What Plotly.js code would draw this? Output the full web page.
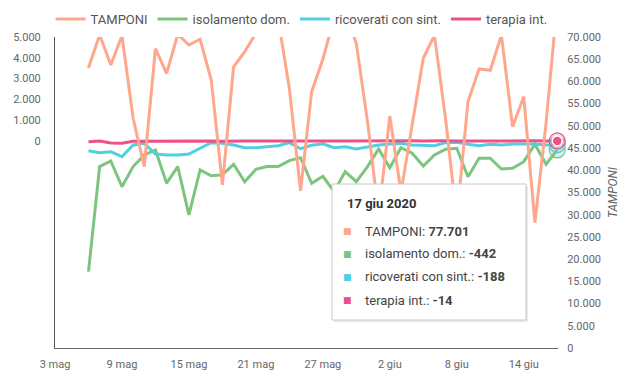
<!DOCTYPE html>
<html>
<head>
<meta charset="utf-8">
<script src="https://cdn.plot.ly/plotly-3.0.1.min.js"></script>
<style>
  html, body { margin: 0; padding: 0; background: #fff; }
  #chart { width: 632px; height: 380px; }
</style>
</head>
<body>
<div id="chart"></div>
<script>
// ---- data ----
const dates = [
  '2020-05-06','2020-05-07','2020-05-08','2020-05-09','2020-05-10','2020-05-11','2020-05-12',
  '2020-05-13','2020-05-14','2020-05-15','2020-05-16','2020-05-17','2020-05-18','2020-05-19',
  '2020-05-20','2020-05-21','2020-05-22','2020-05-23','2020-05-24','2020-05-25','2020-05-26',
  '2020-05-27','2020-05-28','2020-05-29','2020-05-30','2020-05-31','2020-06-01','2020-06-02',
  '2020-06-03','2020-06-04','2020-06-05','2020-06-06','2020-06-07','2020-06-08','2020-06-09',
  '2020-06-10','2020-06-11','2020-06-12','2020-06-13','2020-06-14','2020-06-15','2020-06-16',
  '2020-06-17'
];
const tamponi = [
  63000, 70500, 63700, 70300, 51700, 40800, 67400,
  61800, 70600, 68200, 69500, 60300, 36700, 63300,
  66700, 71000, 75000, 74000, 58400, 35400, 57700,
  65000, 74200, 76000, 68500, 51000, 30000, 52200,
  35000, 50200, 65200, 70400, 51500, 29000, 55400,
  62800, 62500, 70400, 49800, 56600, 28200, 50600,
  77701
];
const isolamento = [
  -6320, -1250, -980, -2220, -1250, -690, -450,
  -2050, -1250, -3580, -1410, -1690, -1650, -1140,
  -1980, -1380, -1250, -1250, -965, -820, -2055,
  -1720, -2450, -1495, -1980, -1254, -400, -1302,
  -338, -608, -1220, -690, -415, -367, -1737,
  -849, -849, -1365, -1331, -1013, -174, -1139,
  -442
];
const ricoverati = [
  -482, -579, -531, -772, -207, -125, -642,
  -690, -690, -642, -367, -96, -125, -207,
  -338, -338, -289, -241, -96, -390, -220,
  -150, -338, -289, -400, -289, -207, -159,
  -125, -207, -207, -241, -96, -79, -174,
  -241, -174, -207, -159, -159, -159, -207,
  -188
];
const terapia = [
  -50, -20, -110, -120, -30, -25, -20,
  -30, -20, -25, -20, -15, -30, -10,
  -20, -15, -20, -15, -10, -20, -15,
  -10, -20, -15, -10, -20, -5, -15,
  -10, -10, -20, -5, -10, -15, -10,
  -20, -5, -10, -15, -5, -10, -15,
  -14
];
const seriesNames = ['TAMPONI', 'isolamento dom.', 'ricoverati con sint.', 'terapia int.'];
const tickDates = ['2020-05-03','2020-05-09','2020-05-15','2020-05-21','2020-05-27','2020-06-02','2020-06-08','2020-06-14'];
const tickLabels = ['3 mag','9 mag','15 mag','21 mag','27 mag','2 giu','8 giu','14 giu'];
const leftTicks = [0, 1000, 2000, 3000, 4000, 5000];
const monthNames = ['gen','feb','mar','apr','mag','giu','lug','ago','set','ott','nov','dic'];

// ---- styles ----
const colors = ['#FFA78C', '#7DC57F', '#4FCFE0', '#EE5189'];
const rgba = ['rgba(255,167,140,', 'rgba(125,197,127,', 'rgba(79,207,224,', 'rgba(238,81,137,'];

function fmt(n) {
  const s = Math.abs(n).toString().replace(/\B(?=(\d{3})+(?!\d))/g, '.');
  return (n < 0 ? '-' : '') + s;
}
function fmtDate(d) {
  const p = d.split('-');
  return parseInt(p[2], 10) + ' ' + monthNames[parseInt(p[1], 10) - 1] + ' ' + p[0];
}

const series = [tamponi, isolamento, ricoverati, terapia];
const axes = ['y2', 'y', 'y', 'y'];

const traces = series.map((vals, k) => ({
  type: 'scatter', mode: 'lines', name: seriesNames[k],
  x: dates, y: vals, yaxis: axes[k],
  line: { color: colors[k], width: 3 },
  hoverinfo: 'skip'
}));

// hover markers on the last point
const last = dates.length - 1;
[1, 2, 3].forEach(k => {
  traces.push({
    type: 'scatter', mode: 'markers', showlegend: false, hoverinfo: 'skip',
    x: [dates[last]], y: [series[k][last]], yaxis: axes[k], cliponaxis: false,
    marker: { size: 16, color: rgba[k] + '0.25)', line: { color: colors[k], width: 1.2 } }
  });
});
traces.push({
  type: 'scatter', mode: 'markers', showlegend: false, hoverinfo: 'skip',
  x: [dates[last]], y: [terapia[last]], yaxis: 'y', cliponaxis: false,
  marker: { size: 10, color: colors[3], line: { color: '#fff', width: 1.5 } }
});

// tooltip (static)
const tipX0 = 0.5507, tipX1 = 0.9364, tipY0 = 0.09, tipY1 = 0.5273;
const shapes = [
  { type: 'rect', xref: 'paper', yref: 'paper', layer: 'above',
    x0: tipX0 + 0.004, x1: tipX1 + 0.004, y0: tipY0 - 0.007, y1: tipY1 - 0.007,
    fillcolor: 'rgba(0,0,0,0.08)', line: { width: 0 } },
  { type: 'rect', xref: 'paper', yref: 'paper', layer: 'above',
    x0: tipX0, x1: tipX1, y0: tipY0, y1: tipY1,
    fillcolor: '#ffffff', line: { color: '#c8c8c8', width: 1 } }
];
const rowY = [0.3762, 0.3023, 0.2283, 0.1543];
const annotations = [
  { xref: 'paper', yref: 'paper', x: 0.5765, y: 0.466, xanchor: 'left', yanchor: 'middle',
    showarrow: false, text: '<b>' + fmtDate(dates[last]) + '</b>',
    font: { family: 'Roboto', size: 13, color: '#333' } }
];
series.forEach((vals, k) => {
  annotations.push({ xref: 'paper', yref: 'paper', x: 0.5825, y: rowY[k], xanchor: 'center', yanchor: 'middle',
    showarrow: false, text: '■', font: { family: 'DejaVu Sans', size: 9, color: colors[k] } });
  annotations.push({ xref: 'paper', yref: 'paper', x: 0.6125, y: rowY[k], xanchor: 'left', yanchor: 'middle',
    showarrow: false, text: seriesNames[k] + ': <b>' + fmt(vals[last]) + '</b>',
    font: { family: 'Roboto', size: 13, color: '#444' } });
});

const layout = {
  width: 632, height: 380,
  margin: { l: 55, r: 74, t: 37, b: 32 },
  paper_bgcolor: '#fff', plot_bgcolor: '#fff',
  font: { family: 'Roboto', size: 11, color: '#666' },
  separators: ',.',
  showlegend: true,
  legend: {
    orientation: 'h', xref: 'container', yref: 'container',
    x: 0.08, xanchor: 'left', y: 0.9895, yanchor: 'top',
    font: { family: 'Roboto', size: 13, color: '#555' },
    bgcolor: 'rgba(0,0,0,0)'
  },
  xaxis: {
    type: 'date', range: ['2020-05-03', '2020-06-17 01:40'],
    tickmode: 'array', tickvals: tickDates, ticktext: tickLabels,
    showline: true, linecolor: '#666', linewidth: 1,
    showgrid: false, zeroline: false,
    ticks: 'outside', ticklen: 6, tickcolor: 'rgba(0,0,0,0)',
    tickfont: { family: 'Roboto', size: 11, color: '#666' }
  },
  yaxis: {
    range: [-10000, 5000],
    tickmode: 'array', tickvals: leftTicks, ticktext: leftTicks.map(fmt),
    showline: true, linecolor: '#555', linewidth: 1,
    showgrid: false, zeroline: false,
    ticks: 'outside', ticklen: 11, tickcolor: 'rgba(0,0,0,0)',
    tickfont: { family: 'Roboto', size: 11, color: '#666' }
  },
  yaxis2: {
    overlaying: 'y', side: 'right', range: [0, 70000],
    dtick: 5000, tickformat: ',d',
    showline: false, showgrid: false, zeroline: false,
    ticks: 'outside', ticklen: 6, tickcolor: 'rgba(0,0,0,0)',
    tickfont: { family: 'Roboto', size: 11, color: '#666' },
    title: { text: 'TAMPONI', font: { family: 'Roboto', size: 12, color: '#666', style: 'italic' }, standoff: 8 }
  },
  shapes: shapes,
  annotations: annotations
};

Plotly.newPlot('chart', traces, layout, { displayModeBar: false, staticPlot: true });
</script>
</body>
</html>
